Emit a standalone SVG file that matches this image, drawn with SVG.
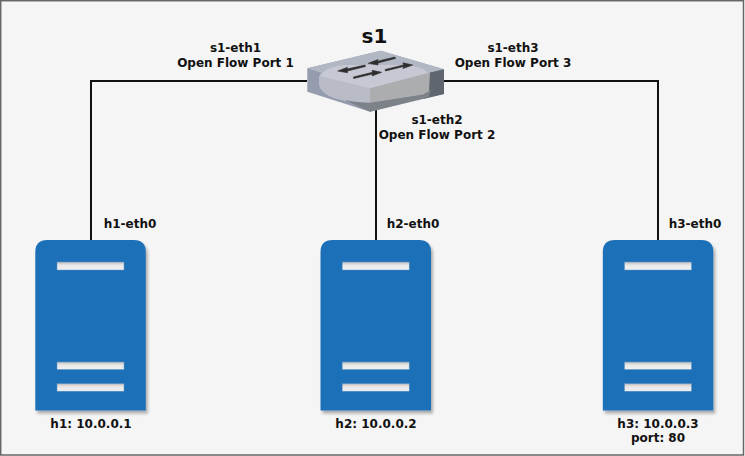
<svg xmlns="http://www.w3.org/2000/svg" width="745" height="456" viewBox="0 0 745 456">
<defs>
<filter id="sh" x="-10%" y="-10%" width="125%" height="125%"><feDropShadow dx="2" dy="3" stdDeviation="1.5" flood-color="#000" flood-opacity="0.3"/></filter>
<linearGradient id="slot" x1="0" y1="0" x2="0" y2="1"><stop offset="0" stop-color="#bdbdbd"/><stop offset="0.4" stop-color="#e8e8e8"/><stop offset="1" stop-color="#f2f2f2"/></linearGradient>
<g id="server">
<path class="body" d="M0 12Q0 0 12 0H98.500Q110.500 0 110.500 12V170.500H0Z"/>
<rect class="slot" x="21.700" y="22" width="67" height="8"/>
<rect class="slot" x="21.700" y="122" width="67" height="7.500"/>
<rect class="slot" x="21.700" y="143.700" width="67" height="7.500"/>
</g>
</defs>
<style>
text{font-family:"DejaVu Sans",sans-serif;font-weight:bold;font-size:12px;fill:#111;text-anchor:middle}
.body{fill:#1f70b8;filter:url(#sh)}
.slot{fill:url(#slot);stroke:#5f93c4;stroke-width:.5}
.link{fill:none;stroke:#111;stroke-width:2}
.arrow{fill:#2e2e2e;stroke:#2e2e2e;stroke-width:.6}
</style>
<rect x="0.700" y="0.700" width="742.800" height="454.300" fill="#f5f5f5" stroke="#666" stroke-width="1.500"/>
<g id="connectors">
<path class="link" d="M307 81H91V240"/>
<path class="link" d="M376 110V240"/>
<path class="link" d="M444 81H658V240"/>
</g>
<g id="s1">
<path d="M307.300 68.300L380.700 50.700L444 69.300V94L370 111.700L307.300 91.700Z" fill="#959cae"/>
<path d="M307.300 68.300L380.700 50.700L444 69.300L370 88.300Z" fill="#b2b7c4"/>
<path d="M319.300 78C319.300 72 330 66.500 345 65H405C420 66.500 430 71 430 76.700L431 88C431 91 428 93 423 94.500L370 102.700C340 102.700 319.300 95 319.300 84Z" fill="#c6c9d3"/>
<path d="M319.300 76L370 88.300V102.700C340 102.700 319.300 95 319.300 84Z" fill="#b9bcc7"/>
<path d="M370 88.300L430 72.500L431 88C431 91 428 93 423 94.500L370 102.700Z" fill="#acadaf"/>
<path d="M430 72.500L444 69.300V94L423 99L429 92Z" fill="#5f666d"/>
<path d="M370 102.700L423 94.500L431 90L429 97L370 111.700Z" fill="#7d8188"/>
<path d="M345 100C353 102 362 102.700 370 102.700V111.700Z" fill="#7d8188"/>
<path class="arrow" d="M337.700 71L347.500 67.300L347 69L365 65L365.500 66.500L347.500 71L347.500 72.800Z"/>
<path class="arrow" d="M368.300 63.300L378 59.500L377.500 61.200L395 57L395.500 58.400L378 63L378 65Z"/>
<path class="arrow" d="M412.700 65L403 62.800L403.500 65L385 69.500L385.500 71L403.500 66.500L403 68.500Z"/>
<path class="arrow" d="M381.700 72.300L372 70.300L372.500 72.300L353.300 77L353.800 78.500L372.500 74L372 76Z"/>
<text x="374.500" y="43" style="font-size:20px">s1</text>
</g>
<g id="h1"><use href="#server" x="35.300" y="240"/><text x="91" y="428">h1: 10.0.0.1</text></g>
<g id="h2"><use href="#server" x="320.500" y="240"/><text x="376" y="428">h2: 10.0.0.2</text></g>
<g id="h3"><use href="#server" x="602.800" y="240"/><text x="658" y="428">h3: 10.0.0.3</text><text x="658" y="442">port: 80</text></g>
<g id="labels">
<text x="235.500" y="52">s1-eth1</text><text x="235.500" y="67">Open Flow Port 1</text>
<text x="513" y="52">s1-eth3</text><text x="513" y="67">Open Flow Port 3</text>
<text x="437" y="124">s1-eth2</text><text x="437" y="139">Open Flow Port 2</text>
<text x="130" y="228">h1-eth0</text>
<text x="413" y="228">h2-eth0</text>
<text x="695" y="228">h3-eth0</text>
</g>
</svg>
